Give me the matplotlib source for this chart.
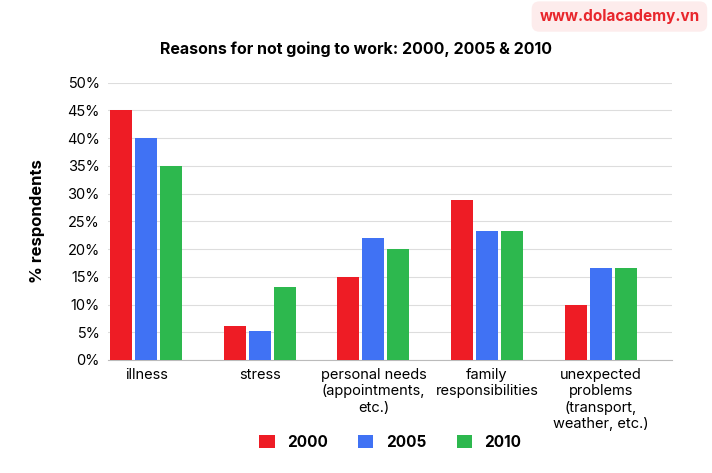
import matplotlib.pyplot as plt
import numpy as np

plt.rcParams["font.family"] = "Inter"

categories = ["illness", "stress", "personal needs\n(appointments,\netc.)",
              "family\nresponsibilities", "unexpected\nproblems\n(transport,\nweather, etc.)"]
years = ["2000", "2005", "2010"]
v2000 = [45, 6.2, 15, 28.9, 10]
v2005 = [40, 5.3, 22, 23.2, 16.5]
v2010 = [35, 13.2, 20, 23.2, 16.5]
colors = ["#ee1c25", "#4072f4", "#2db84e"]

fig = plt.figure(figsize=(7.12, 4.73), dpi=100)
ax = fig.add_axes([0.152, 0.239, 0.792, 0.586])
x = np.arange(len(categories))
w = 0.194
step = 0.22
for i, (vals, lab) in enumerate(zip([v2000, v2005, v2010], years)):
    ax.bar(x + (i - 1) * step, vals, width=w, color=colors[i], label=lab, zorder=3)

ax.set_xlim(-0.335, 4.63)
ax.set_ylim(0, 50)
ax.set_yticks(range(0, 51, 5))
ax.set_yticklabels([f"{t}%" for t in range(0, 51, 5)], fontsize=10.5)
ax.set_xticks(x)
ax.set_xticklabels(categories, fontsize=10.5, va="top")
ax.tick_params(length=0, pad=6)
ax.grid(axis="y", color="#dddddd", lw=0.8, zorder=0)
for s in ["top", "right", "left"]:
    ax.spines[s].set_visible(False)
ax.spines["bottom"].set_color("#bbbbbb")
ax.set_ylabel("% respondents", fontsize=12, fontweight="bold", labelpad=16)
fig.text(0.5, 0.885, "Reasons for not going to work: 2000, 2005 & 2010",
         ha="center", fontsize=11.5, fontweight="bold")
ax.legend(loc="upper center", bbox_to_anchor=(0.5, -0.22), ncol=3, frameon=False,
          handlelength=1.0, handleheight=1.0, prop={"weight": "bold", "size": 11},
          columnspacing=2.0)
fig.text(0.87, 0.965, "www.dolacademy.vn", ha="center", va="center", color="#e8262c",
         fontsize=11, fontweight="bold",
         bbox=dict(boxstyle="round,pad=0.5", fc="#fdecec", ec="none"))
fig.savefig("out.png", dpi=100)
